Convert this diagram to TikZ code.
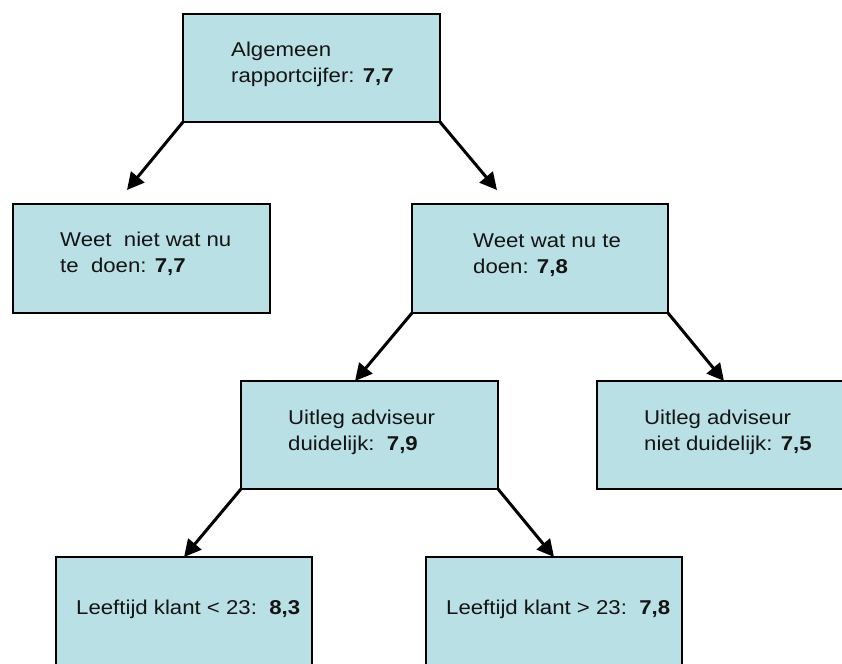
\documentclass[tikz,border=0pt]{standalone}
\usepackage{fontspec}
\setmainfont{Liberation Sans}[FakeStretch=1.11]
\usetikzlibrary{arrows.meta,calc}
\definecolor{boxfill}{RGB}{185,224,228}
\definecolor{txt}{RGB}{20,20,20}
\begin{document}
\begin{tikzpicture}[x=1pt,y=-1pt,
  box/.style={draw=black, line width=1.5pt, fill=boxfill, rectangle, inner sep=0pt, outer sep=0pt},
  lbl/.style={anchor=base west, inner sep=0pt, align=left, text=txt, font=\fontsize{20}{26}\selectfont},
  conn/.style={line width=3pt, -{Triangle[length=17pt,width=17pt]}}]
\useasboundingbox (0,0) rectangle (842,663);
\clip (0,0) rectangle (842,663);
% boxes
\node[box, minimum width=257pt, minimum height=108pt] (top) at (311.5,68) {};
\node[box, minimum width=257pt, minimum height=109pt] (L) at (141.5,258.5) {};
\node[box, minimum width=256pt, minimum height=109pt] (R) at (540,258.5) {};
\node[box, minimum width=257pt, minimum height=108pt] (ML) at (369.5,435) {};
\node[box, minimum width=273pt, minimum height=108pt] (MR) at (733.5,435) {};
\node[box, minimum width=256pt, minimum height=133pt] (BL) at (184,623.5) {};
\node[box, minimum width=256pt, minimum height=133pt] (BR) at (554,623.5) {};
% texts (base anchor = baseline of the last line)
\node[lbl] (tTop) at (231,83) {Algemeen\\rapportcijfer: \textbf{7,7}};
\node[lbl] (tL) at (60,272) {Weet\ \ niet wat nu\\te\ \ doen: \textbf{7,7}};
\node[lbl] (tR) at (473,273) {Weet wat nu te\\doen: \textbf{7,8}};
\node[lbl] (tML) at (288,450) {Uitleg adviseur\\duidelijk:\ \ \textbf{7,9}};
\node[lbl] (tMR) at (644,450) {Uitleg adviseur\\niet duidelijk: \textbf{7,5}};
\node[lbl] (tBL) at (76,614) {Leeftijd klant < 23:\ \ \textbf{8,3}};
\node[lbl] (tBR) at (446,614) {Leeftijd klant > 23:\ \ \textbf{7,8}};
% free ends
\coordinate (endL) at (127,190);
\coordinate (endR) at (497,190);
% connectors
\draw[conn] (top.south west) -- (endL);
\draw[conn] (top.south east) -- (endR);
\draw[conn] (R.south west) -- ([xshift=114pt]ML.north west);
\draw[conn] (R.south east) -- ([xshift=127pt]MR.north west);
\draw[conn] (ML.south west) -- (BL.north);
\draw[conn] (ML.south east) -- (BR.north);
\end{tikzpicture}
\end{document}
